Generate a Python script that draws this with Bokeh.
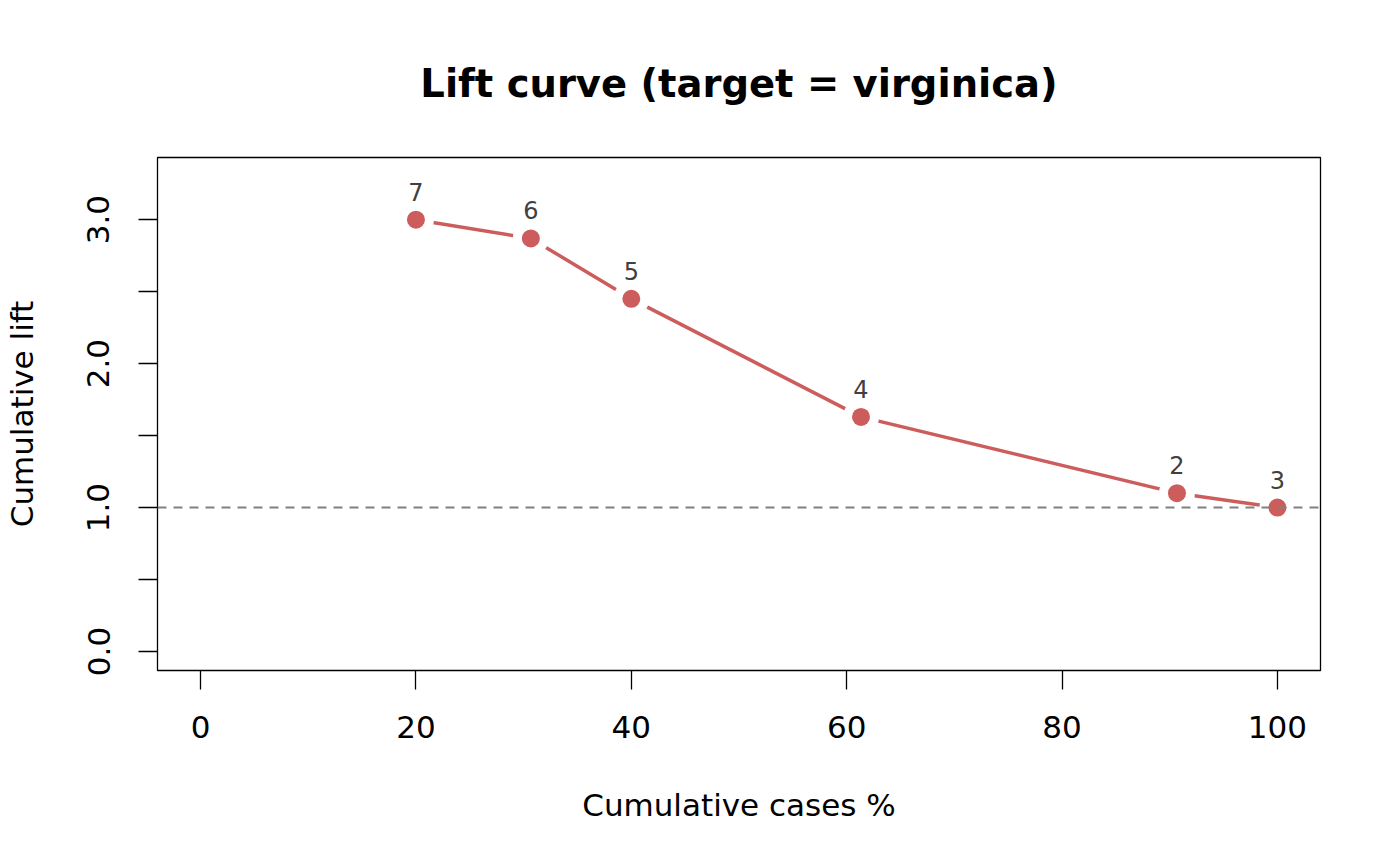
from bokeh.plotting import figure
from bokeh.models import Range1d, FixedTicker, PrintfTickFormatter, Span, ColumnDataSource
from bokeh.embed import file_html
from bokeh.resources import INLINE

# ---- data ----
cum_pct = [20.0, 30.67, 40.0, 61.33, 90.67, 100.0]
cum_lift = [3.0, 2.87, 2.45, 1.63, 1.10, 1.0]
point_labels = ["7", "6", "5", "4", "2", "3"]
x_ticks = [0, 20, 40, 60, 80, 100]
y_ticks = [0.0, 1.0, 2.0, 3.0]
y_minor_ticks = [0.5, 1.5, 2.5]
baseline_lift = 1.0

FONT = "DejaVu Sans"
RED = "#CD5C5C"

p = figure(width=1384, height=850, output_backend="svg", toolbar_location=None,
           x_range=Range1d(-4, 104), y_range=Range1d(-0.132, 3.432),
           min_border_left=157, min_border_right=64, min_border_top=157, min_border_bottom=180,
           title="Lift curve (target = virginica)")
p.background_fill_color = "white"
p.border_fill_color = "white"
p.outline_line_color = "black"
p.outline_line_width = 1.3
p.xgrid.visible = False
p.ygrid.visible = False

p.title.text_font = FONT
p.title.text_font_size = "38.5px"
p.title.text_font_style = "bold"
p.title.align = "center"
p.title.standoff = 104
p.title.text_color = "black"

for ax in (p.xaxis[0], p.yaxis[0]):
    ax.axis_line_color = None
    ax.major_tick_out = 19
    ax.major_tick_in = 0
    ax.minor_tick_out = 19
    ax.minor_tick_in = 0
    ax.major_tick_line_width = 1.3
    ax.minor_tick_line_width = 1.3
    ax.major_tick_line_color = "black"
    ax.minor_tick_line_color = "black"
    ax.major_label_text_font = FONT
    ax.major_label_text_font_size = "31px"
    ax.major_label_text_color = "black"
    ax.axis_label_text_font = FONT
    ax.axis_label_text_font_size = "31px"
    ax.axis_label_text_font_style = "normal"
    ax.axis_label_text_color = "black"

p.xaxis.ticker = FixedTicker(ticks=x_ticks, minor_ticks=[])
p.xaxis.axis_label = "Cumulative cases %"
p.xaxis.major_label_standoff = 26
p.xaxis.axis_label_standoff = 46

p.yaxis.ticker = FixedTicker(ticks=y_ticks, minor_ticks=y_minor_ticks)
p.yaxis.formatter = PrintfTickFormatter(format="%.1f")
p.yaxis.axis_label = "Cumulative lift"
p.yaxis.major_label_orientation = "vertical"
p.yaxis.major_label_standoff = 29
p.yaxis.axis_label_standoff = 45

src = ColumnDataSource(dict(x=cum_pct, y=cum_lift, lab=point_labels))

p.line("x", "y", source=src, line_color=RED, line_width=3.5)
p.scatter("x", "y", source=src, size=36, fill_color="white", line_color=None)
p.scatter("x", "y", source=src, size=18, fill_color=RED, line_color=None)

p.add_layout(Span(location=baseline_lift, dimension="width", line_color="#808080",
                  line_width=2, line_dash="9 7"))

p.text("x", "y", text="lab", source=src, text_align="center", text_baseline="alphabetic",
       y_offset=-28, text_font_size="24px", text_color="#404040", text_font={"value": FONT})

open("out.html", "w").write(file_html(p, INLINE))
